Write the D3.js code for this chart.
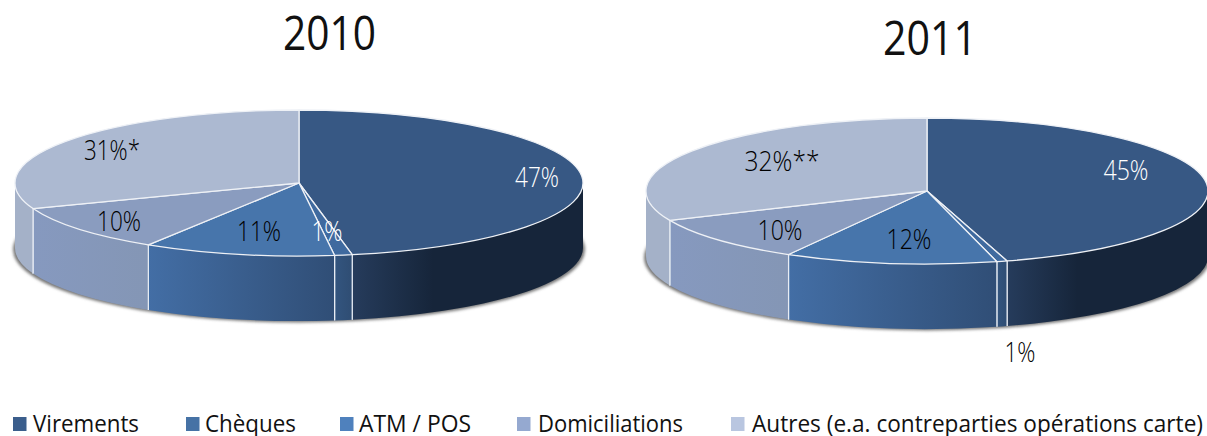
<!DOCTYPE html>
<html>
<head>
<meta charset="utf-8">
<script src="https://cdn.jsdelivr.net/npm/d3@7"></script>
<style>
  html, body { margin: 0; padding: 0; background: #fff; }
  svg { display: block; }
  text { font-family: "Open Sans", sans-serif; }
</style>
</head>
<body>
<div id="svg-container"></div>
<script>
// data
const categories = ["Virements", "Chèques", "ATM / POS", "Domiciliations", "Autres (e.a. contreparties opérations carte)"];
const values2010 = [47, 1, 10.9, 10.4, 30.7];
const values2011 = [45.4, 0.6, 12.2, 10.2, 31.6];
const labels2010 = ["47%", "1%", "11%", "10%", "31%*"];
const labels2011 = ["45%", "1%", "12%", "10%", "32%**"];

// colours
const topColors = ["#375884", "#3f6a9f", "#4775ab", "#8a9cbf", "#acb9d1"];
const sideFrom = ["#263c5c", "#33557f", "#436ea5", "#8699bf", "#a4b1c8"];
const sideTo = ["#16253a", "#2f4d73", "#304e76", "#8496b5", "#a4b1c8"];
const legendColors = ["#3b5e8c", "#4672a5", "#4f81bd", "#95a9d0", "#b9c6e0"];

const width = 1207;
const height = 436;

const svg = d3.select("#svg-container").append("svg")
  .attr("width", width)
  .attr("height", height);

const defs = svg.append("defs");
defs.append("filter").attr("id", "blur")
  .attr("x", "-5%").attr("y", "-20%").attr("width", "110%").attr("height", "140%")
  .append("feGaussianBlur").attr("stdDeviation", 1.5);

// layout of the two pies
const pies = [
  {
    id: "a", title: "2010", titleX: 329.5, titleY: 33, titleW: 93, values: values2010, labels: labels2010,
    cx: 299, cy: 183, rx: 284, ry: 73, depth: 65,
    labelXY: [[537, 178], [327, 232], [259, 232], [119, 222], [112, 151]],
    labelW: [44, 31, 44, 44, 56],
    labelColor: ["#fff", "#fff", "#000", "#000", "#000"]
  },
  {
    id: "b", title: "2011", titleX: 930, titleY: 38, titleW: 94, values: values2011, labels: labels2011,
    cx: 927, cy: 191, rx: 281, ry: 73, depth: 65,
    labelXY: [[1126, 171], [1020, 353], [909, 240], [780, 231], [782, 162]],
    labelW: [45, 31, 45, 45, 75],
    labelColor: ["#fff", "#000", "#000", "#000", "#000"]
  }
];

const pieGen = d3.pie().sort(null).value((d) => d);

function drawPie(p) {
  const g = svg.append("g");
  const slices = pieGen(p.values);
  const pt = (a, dy = 0) => [p.cx + p.rx * Math.sin(a), p.cy - p.ry * Math.cos(a) + dy];
  const arcTo = (a1, a2, dy, sweep) => {
    const e = pt(a2, dy);
    const large = Math.abs(a2 - a1) > Math.PI ? 1 : 0;
    return `A${p.rx},${p.ry} 0 ${large} ${sweep} ${e[0]},${e[1]}`;
  };

  // soft shadow under the disc
  g.append("ellipse")
    .attr("cx", p.cx)
    .attr("cy", p.cy + p.depth + 1.5)
    .attr("rx", p.rx + 2)
    .attr("ry", p.ry)
    .attr("fill", "#777")
    .attr("filter", "url(#blur)");

  // side walls, only the part facing us
  const front = slices
    .map((s, i) => ({
      i,
      a0: Math.max(s.startAngle, Math.PI / 2),
      a1: Math.min(s.endAngle, (3 * Math.PI) / 2)
    }))
    .filter((s) => s.a1 > s.a0);

  front.forEach((s) => {
    const x0 = pt(s.a0)[0];
    const x1 = pt(s.a1)[0];
    const grad = defs.append("linearGradient")
      .attr("id", `side-${p.id}-${s.i}`)
      .attr("gradientUnits", "userSpaceOnUse")
      .attr("x1", x0).attr("x2", x1)
      .attr("y1", 0).attr("y2", 0);
    grad.append("stop").attr("offset", 0).attr("stop-color", sideTo[s.i]);
    if (s.i === 0) grad.append("stop").attr("offset", 0.65).attr("stop-color", sideTo[0]);
    grad.append("stop").attr("offset", 1).attr("stop-color", sideFrom[s.i]);

    const a = pt(s.a0);
    const b = pt(s.a1);
    const d = `M${a[0]},${a[1]}` + arcTo(s.a0, s.a1, 0, 1) +
      `L${b[0]},${b[1] + p.depth}` + arcTo(s.a1, s.a0, p.depth, 0) + "Z";
    g.append("path")
      .attr("d", d)
      .attr("fill", `url(#side-${p.id}-${s.i})`);
    // white seams between the walls
    [s.a0, s.a1].forEach((ang) => {
      if (ang > Math.PI / 2 + 0.001 && ang < (3 * Math.PI) / 2 - 0.001) {
        const q = pt(ang);
        g.append("line")
          .attr("x1", q[0]).attr("y1", q[1])
          .attr("x2", q[0]).attr("y2", q[1] + p.depth)
          .attr("stroke", "#e8edf4")
          .attr("stroke-width", 1.2);
      }
    });
  });

  // top face
  slices.forEach((s, i) => {
    const a = pt(s.startAngle);
    g.append("path")
      .attr("d", `M${p.cx},${p.cy}L${a[0]},${a[1]}` + arcTo(s.startAngle, s.endAngle, 0, 1) + "Z")
      .attr("fill", topColors[i])
      .attr("stroke", "#eef1f6")
      .attr("stroke-width", 1.3)
      .attr("stroke-linejoin", "round");
  });

  // labels, squeezed to the narrow face of the original
  p.labels.forEach((t, i) => {
    g.append("text")
      .attr("x", p.labelXY[i][0])
      .attr("y", p.labelXY[i][1])
      .attr("dy", "0.35em")
      .attr("text-anchor", "middle")
      .attr("font-size", 27)
      .attr("font-weight", 300)
      .attr("textLength", p.labelW[i])
      .attr("lengthAdjust", "spacingAndGlyphs")
      .attr("fill", p.labelColor[i])
      .text(t);
  });

  svg.append("text")
    .attr("x", p.titleX)
    .attr("y", p.titleY)
    .attr("dy", "0.35em")
    .attr("text-anchor", "middle")
    .attr("font-size", 48)
    .attr("textLength", p.titleW)
    .attr("lengthAdjust", "spacingAndGlyphs")
    .attr("fill", "#111")
    .text(p.title);
}

pies.forEach(drawPie);

// legend
const legendX = [13, 186, 340, 517, 731];
const legendTextX = [33, 205, 359, 538, 752];
const legendW = [106, 91, 112, 145, 451];

const legend = svg.selectAll(".legend").data(categories).enter().append("g").attr("class", "legend");
legend.append("rect")
  .attr("x", (d, i) => legendX[i])
  .attr("y", 417)
  .attr("width", 13.5)
  .attr("height", 14)
  .attr("fill", (d, i) => legendColors[i]);
legend.append("text")
  .attr("x", (d, i) => legendTextX[i])
  .attr("y", 432)
  .attr("font-size", 24)
  .attr("textLength", (d, i) => legendW[i])
  .attr("lengthAdjust", "spacingAndGlyphs")
  .attr("fill", "#111")
  .text((d) => d);
</script>
</body>
</html>
